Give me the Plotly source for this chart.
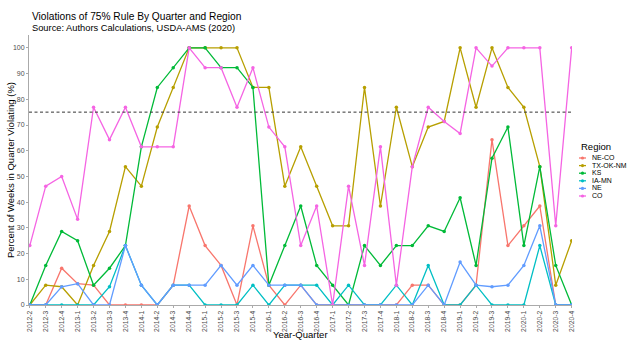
import plotly.graph_objects as go

quarters = ["2012-2", "2012-3", "2012-4",
            "2013-1", "2013-2", "2013-3", "2013-4",
            "2014-1", "2014-2", "2014-3", "2014-4",
            "2015-1", "2015-2", "2015-3", "2015-4",
            "2016-1", "2016-2", "2016-3", "2016-4",
            "2017-1", "2017-2", "2017-3", "2017-4",
            "2018-1", "2018-2", "2018-3", "2018-4",
            "2019-1", "2019-2", "2019-3", "2019-4",
            "2020-1", "2020-2", "2020-3", "2020-4"]

ne_co = [0, 0, 14.3, 8.3, 7.7, 0, 0, 0, 0, 7.7, 38.5, 23.1, 15.4, 0, 30.8, 7.7, 0, 7.7,
         0, 0, 0, 0, 0, 0, 7.7, 7.7, 0, 0, 7.7, 64.3, 23.1, 30.8, 38.5, 0, 0]
tx_ok_nm = [0, 7.7, 7.1, 0, 15.4, 28.6, 53.8, 46.2, 69.2, 84.6, 100, 100, 100, 100, 84.6, 84.6,
            46.2, 61.5, 46.2, 30.8, 30.8, 84.6, 38.5, 76.9, 53.8, 69.2, 71.4, 100, 76.9, 100,
            84.6, 76.9, 53.8, 7.7, 25]
ks = [0, 15.4, 28.6, 25, 7.7, 14.3, 23.1, 61.5, 84.6, 92.3, 100, 100, 92.3, 92.3, 84.6, 7.7,
      23.1, 38.5, 15.4, 7.7, 0, 23.1, 15.4, 23.1, 23.1, 30.8, 28.6, 41.7, 15.4, 57.1, 69.2,
      23.1, 53.8, 15.4, 0]
ia_mn = [0, 0, 0, 0, 0, 7.1, 23.1, 7.7, 0, 7.7, 7.7, 0, 0, 0, 7.7, 0, 7.7, 7.7, 7.7, 0, 7.7,
         0, 0, 7.7, 0, 15.4, 0, 0, 7.7, 0, 0, 0, 23.1, 0, 0]
ne = [0, 0, 7.1, 8.3, 0, 0, 23.1, 7.7, 0, 7.7, 7.7, 7.7, 15.4, 7.7, 15.4, 7.7, 7.7, 7.7, 0, 0,
      0, 0, 0, 0, 0, 7.7, 0, 16.7, 7.7, 7.1, 7.7, 15.4, 30.8, 0, 0]
co = [23.1, 46.2, 50, 33.3, 76.9, 64.3, 76.9, 61.5, 61.5, 61.5, 100, 92.3, 92.3, 76.9, 92.3,
      69.2, 61.5, 23.1, 38.5, 0, 46.2, 15.4, 61.5, 7.7, 53.8, 76.9, 71.4, 66.7, 100, 92.9, 100,
      100, 100, 30.8, 100]

regions = ["NE-CO", "TX-OK-NM", "KS", "IA-MN", "NE", "CO"]
series = [ne_co, tx_ok_nm, ks, ia_mn, ne, co]
colors = ["#F8766D", "#B79F00", "#00BA38", "#00BFC4", "#619CFF", "#F564E3"]
threshold = 75
y_ticks = list(range(0, 101, 10))

FONT = "Liberation Sans, Arial, sans-serif"
W, H = 637, 347
ML, MR, MT, MB = 29, 65, 35, 42
PW, PH = W - ML - MR, H - MT - MB


def px(x):
    return (x - ML) / PW


def py(y):
    return (H - MB - y) / PH


fig = go.Figure()
for name, vals, col in zip(regions, series, colors):
    fig.add_trace(go.Scatter(
        x=quarters, y=vals, mode="lines+markers", name=name,
        line=dict(color=col, width=1.3),
        marker=dict(color=col, size=3.5),
        showlegend=False,
    ))

fig.add_hline(y=threshold, line=dict(color="#333333", width=1, dash="3px,2.5px"))

annotations = [
    dict(text="Violations of 75% Rule By Quarter and Region", x=px(30), y=py(16.5),
         xanchor="left", yanchor="middle", font=dict(size=10.2, color="black")),
    dict(text="Source: Authors Calculations, USDA-AMS (2020)", x=px(30), y=py(28.5),
         xanchor="left", yanchor="middle", font=dict(size=9.3, color="black")),
    dict(text="Percent of Weeks in Quarter Violating (%)", x=px(10), y=py(170),
         xanchor="center", yanchor="middle", textangle=-90,
         font=dict(size=9.5, color="black")),
    dict(text="Year-Quarter", x=px(300.5), y=py(334),
         xanchor="center", yanchor="middle", font=dict(size=9.5, color="black")),
    dict(text="Region", x=px(579), y=py(146), xanchor="left", yanchor="middle",
         font=dict(size=9.5, color="black")),
]
shapes = []
for k, (name, col) in enumerate(zip(regions, colors)):
    yc = 158 + 7.6 * k
    annotations.append(dict(text=name, x=px(590), y=py(yc), xanchor="left",
                            yanchor="middle", font=dict(size=7, color="black"),
                            height=7.6, valign="middle"))
    shapes.append(dict(type="line", xref="paper", yref="paper",
                       x0=px(579), x1=px(586), y0=py(yc), y1=py(yc),
                       line=dict(color=col, width=1.3)))
    shapes.append(dict(type="circle", xref="paper", yref="paper",
                       xsizemode="pixel", ysizemode="pixel",
                       xanchor=px(582.5), yanchor=py(yc),
                       x0=-1.6, x1=1.6, y0=-1.6, y1=1.6,
                       fillcolor=col, line=dict(width=0)))
for a in annotations:
    a.update(xref="paper", yref="paper", showarrow=False)

fig.update_layout(
    width=W, height=H,
    margin=dict(l=ML, r=MR, t=MT, b=MB),
    paper_bgcolor="white", plot_bgcolor="white",
    font=dict(family=FONT, color="#4D4D4D"),
    annotations=annotations,
    shapes=list(fig.layout.shapes) + shapes,
    xaxis=dict(type="category", categoryorder="array", categoryarray=quarters,
               range=[-0.05, 34.02], showgrid=False, zeroline=False,
               showline=True, linecolor="#AAAAAA", linewidth=1,
               ticks="outside", ticklen=2, tickcolor="#AAAAAA",
               tickangle=-90, tickfont=dict(size=6.8, color="#4D4D4D")),
    yaxis=dict(range=[0, 105], tickvals=y_ticks, showgrid=False, zeroline=False,
               showline=True, linecolor="#AAAAAA", linewidth=1,
               ticks="outside", ticklen=2, tickcolor="#AAAAAA",
               tickfont=dict(size=7, color="#4D4D4D")),
)

fig.write_html("out.html")
